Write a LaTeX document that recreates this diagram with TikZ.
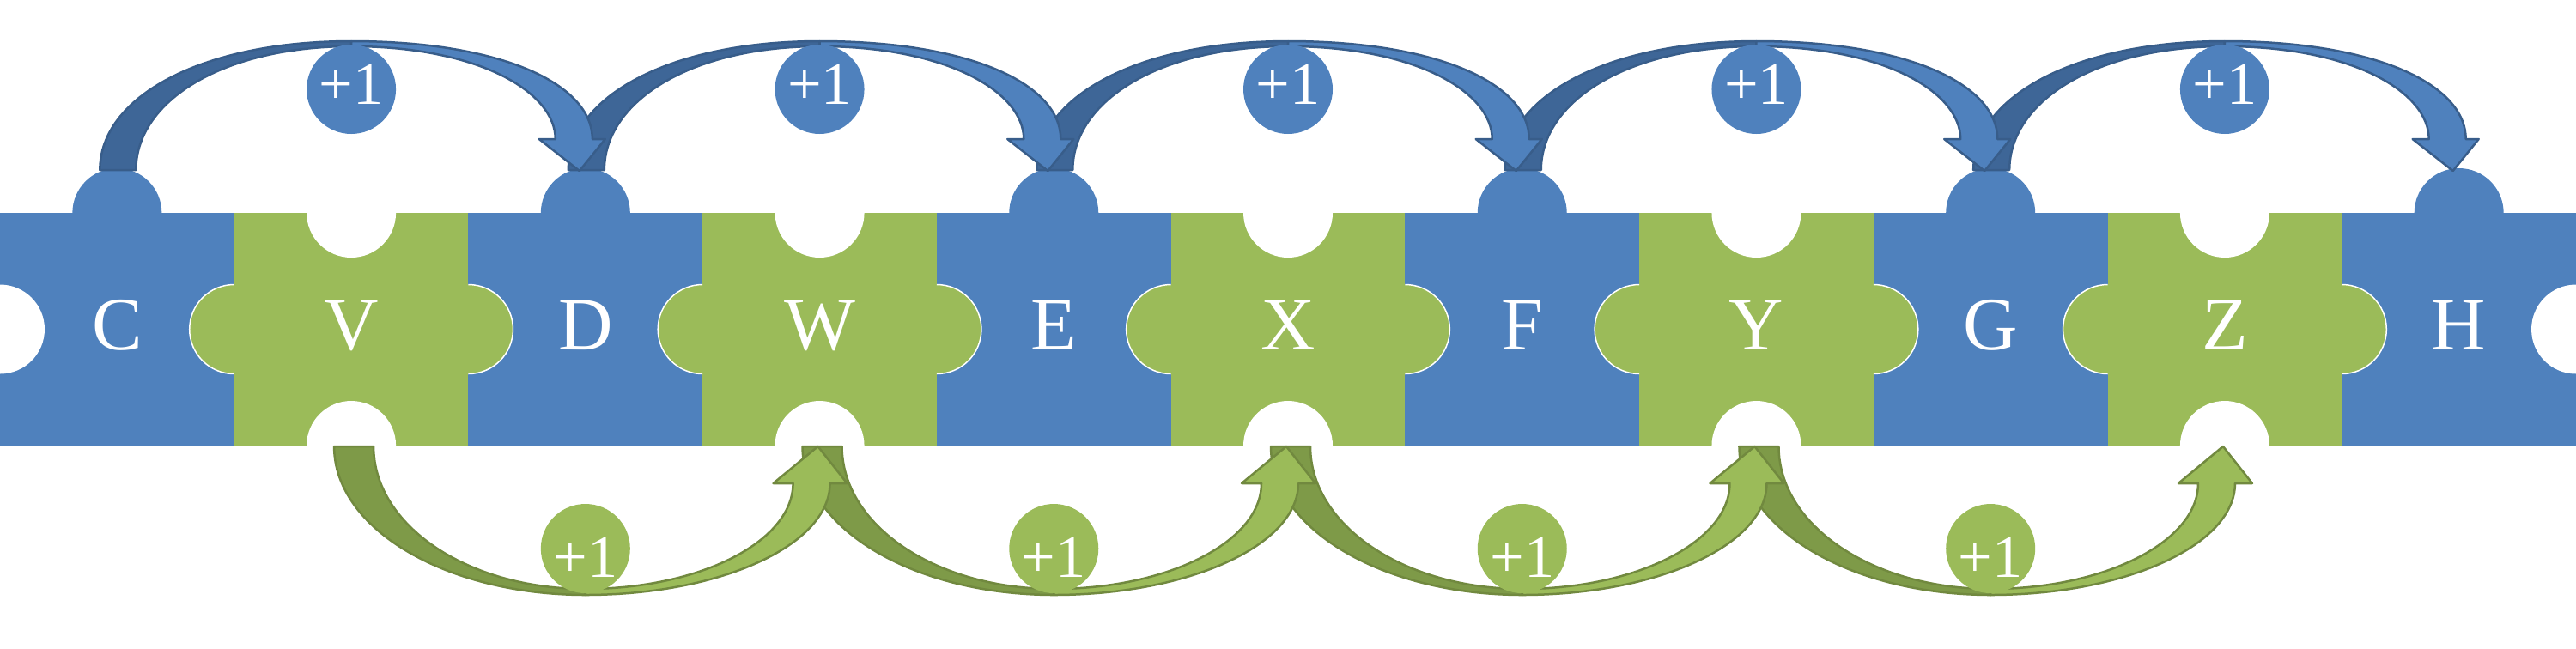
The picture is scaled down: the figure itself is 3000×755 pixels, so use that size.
\documentclass[tikz,border=0pt]{standalone}
\usepackage{fontspec}
\setmainfont{Liberation Serif}
\usetikzlibrary{calc}

\definecolor{pblue}{HTML}{4F81BD}
\definecolor{pgreen}{HTML}{9BBB59}
\definecolor{bback}{HTML}{3E6697}
\definecolor{bline}{HTML}{385D8A}
\definecolor{gback}{HTML}{7E9A48}
\definecolor{gline}{HTML}{71893F}

% green piece, #1 = x of its centre
\newcommand{\greenpiece}[1]{
    \fill [pgreen] ({#1-136.36},248) rectangle ({#1+136.36},519);
    \fill [pgreen] ({#1-136.36},383.5) circle (5.2mm);
    \fill [pgreen] ({#1+136.36},383.5) circle (5.2mm);
    \draw [tabline] ({#1-136.36},331.5) arc [start angle=90, end angle=270, radius=5.2mm];
    \draw [tabline] ({#1+136.36},331.5) arc [start angle=90, end angle=-90, radius=5.2mm];
    \fill [white] (#1,248) circle (5.2mm);
    \fill [white] (#1,519) circle (5.2mm);
}

% curved arrow over the band, from tab #1 to tab #2
\newcommand{\toparrow}[2]{
    \path [bk] ($(#1)+(-20,0)$)
	.. controls ($(#1)+(-20,-85)$) and ($(#1)!.5!(#2)+(-175,-150)$) .. ($(#1)!.5!(#2)+(0,-150)$)
	-- ($(#1)!.5!(#2)+(0,-144)$)
	.. controls ($(#1)!.5!(#2)+(-150,-144)$) and ($(#1)+(22,-80)$) .. ($(#1)+(22,0)$) -- cycle;
    \path [bf] ($(#1)!.5!(#2)+(0,-150)$)
	.. controls ($(#1)!.5!(#2)+(175,-150)$) and ($(#2)+(8,-100)$) .. ($(#2)+(8,-36)$)
	-- ($(#2)+(23,-36)$) -- ($(#2)+(-7,1)$) -- ($(#2)+(-54,-36)$) -- ($(#2)+(-35,-36)$)
	.. controls ($(#2)+(-35,-90)$) and ($(#1)!.5!(#2)+(150,-144)$) .. ($(#1)!.5!(#2)+(0,-144)$) -- cycle;
}

% curved arrow under the band, from hole #1 to hole #2
\newcommand{\bottomarrow}[2]{
    \path [gk] ($(#1)+(-20,0)$)
	.. controls ($(#1)+(-20,96)$) and ($(#1)!.5!(#2)+(-162,173)$) .. ($(#1)!.5!(#2)+(0,173)$)
	-- ($(#1)!.5!(#2)+(0,166)$)
	.. controls ($(#1)!.5!(#2)+(-137,166)$) and ($(#1)+(26,92)$) .. ($(#1)+(26,0)$) -- cycle;
    \path [gf] ($(#1)!.5!(#2)+(0,173)$)
	.. controls ($(#1)!.5!(#2)+(157,173)$) and ($(#2)+(12,115)$) .. ($(#2)+(12,43)$)
	-- ($(#2)+(32,43)$) -- ($(#2)+(-2,0)$) -- ($(#2)+(-54,43)$) -- ($(#2)+(-31,43)$)
	.. controls ($(#2)+(-31,111)$) and ($(#1)!.5!(#2)+(133,166)$) .. ($(#1)!.5!(#2)+(0,166)$) -- cycle;
}

\begin{document}
\begin{tikzpicture}
    [x=0.1mm, y=-0.1mm,
     lt/.style={text=white, font=\fontsize{25}{25}\selectfont, anchor=base},
     bl/.style={circle, fill=pblue, minimum size=10.4mm, inner sep=0pt, text=white,
		font=\fontsize{20}{20}\selectfont, text height=3.4mm, text depth=0pt},
     gl/.style={circle, fill=pgreen, minimum size=10.4mm, inner sep=0pt, text=white,
		font=\fontsize{20}{20}\selectfont, text height=6.6mm, text depth=0pt},
     bk/.style={fill=bback, draw=bline, line width=0.25mm, line join=round},
     bf/.style={fill=pblue, draw=bline, line width=0.25mm, line join=round},
     gk/.style={fill=gback, draw=gline, line width=0.25mm, line join=round},
     gf/.style={fill=pgreen, draw=gline, line width=0.25mm, line join=round},
     tabline/.style={draw=white, line width=0.15mm}]

    \useasboundingbox (0,0) rectangle (3000,755);

    % blue band with its top tabs
    \fill [pblue] (0,248) rectangle (3000,519);
    \fill [pblue] (136.36,248) circle (5.2mm);
    \fill [pblue] (681.82,248) circle (5.2mm);
    \fill [pblue] (1227.27,248) circle (5.2mm);
    \fill [pblue] (1772.73,248) circle (5.2mm);
    \fill [pblue] (2318.18,248) circle (5.2mm);
    \fill [pblue] (2863.64,248) circle (5.2mm);
    \fill [white] (0,383.5) circle (5.2mm);
    \fill [white] (3000,383.5) circle (5.2mm);

    \greenpiece{409.09}
    \greenpiece{954.55}
    \greenpiece{1500}
    \greenpiece{2045.45}
    \greenpiece{2590.91}

    \node [lt] (C) at (136.36,407) {C};
    \node [lt] (V) at (409.09,407) {V};
    \node [lt] (D) at (681.82,407) {D};
    \node [lt] (W) at (954.55,407) {W};
    \node [lt] (E) at (1227.27,407) {E};
    \node [lt] (X) at (1500,407) {X};
    \node [lt] (F) at (1772.73,407) {F};
    \node [lt] (Y) at (2045.45,407) {Y};
    \node [lt] (G) at (2318.18,407) {G};
    \node [lt] (Z) at (2590.91,407) {Z};
    \node [lt] (H) at (2863.64,407) {H};

    \coordinate (Ct) at (136.36,198);
    \coordinate (Dt) at (681.82,198);
    \coordinate (Et) at (1227.27,198);
    \coordinate (Ft) at (1772.73,198);
    \coordinate (Gt) at (2318.18,198);
    \coordinate (Ht) at (2863.64,198);

    \coordinate (Vb) at (409.09,520);
    \coordinate (Wb) at (954.55,520);
    \coordinate (Xb) at (1500,520);
    \coordinate (Yb) at (2045.45,520);
    \coordinate (Zb) at (2590.91,520);

    % right to left, so that each head lies over the next tail
    \toparrow{Gt}{Ht}
    \toparrow{Ft}{Gt}
    \toparrow{Et}{Ft}
    \toparrow{Dt}{Et}
    \toparrow{Ct}{Dt}

    \bottomarrow{Yb}{Zb}
    \bottomarrow{Xb}{Yb}
    \bottomarrow{Wb}{Xb}
    \bottomarrow{Vb}{Wb}

    \node [bl] (incV) at (409.09,104) {+1};
    \node [bl] (incW) at (954.55,104) {+1};
    \node [bl] (incX) at (1500,104) {+1};
    \node [bl] (incY) at (2045.45,104) {+1};
    \node [bl] (incZ) at (2590.91,104) {+1};

    \node [gl] (incD) at (681.82,639) {+1};
    \node [gl] (incE) at (1227.27,639) {+1};
    \node [gl] (incF) at (1772.73,639) {+1};
    \node [gl] (incG) at (2318.18,639) {+1};
\end{tikzpicture}
\end{document}
